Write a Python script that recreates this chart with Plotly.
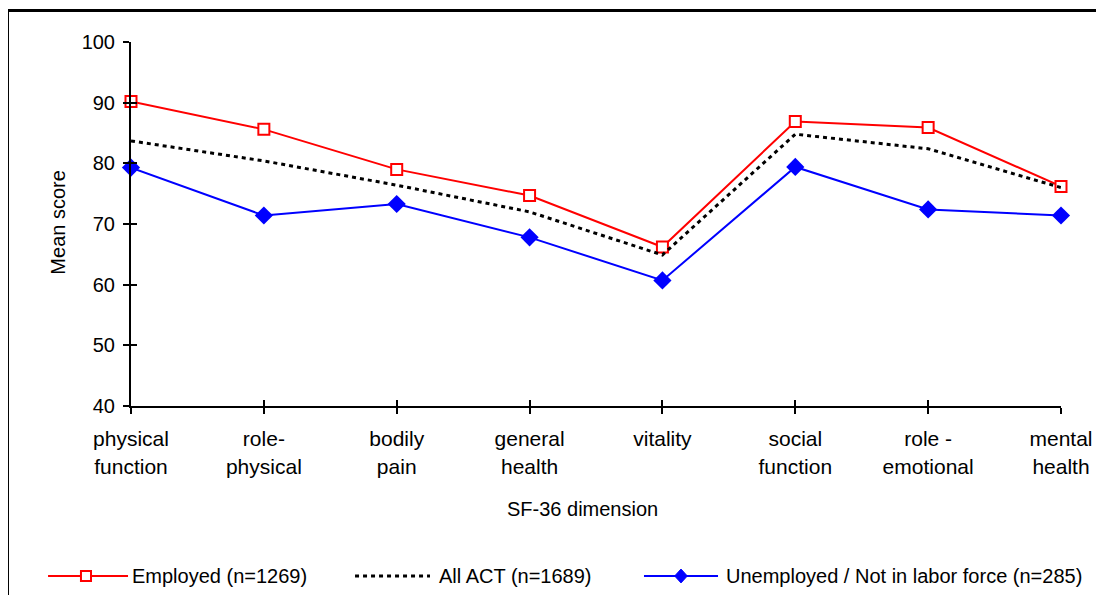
import plotly.graph_objects as go

dimensions = ['physical<br>function', 'role-<br>physical', 'bodily<br>pain', 'general<br>health',
              'vitality', 'social<br>function', 'role -<br>emotional', 'mental<br>health']
employed = [90.2, 85.6, 79.0, 74.7, 66.2, 86.9, 85.9, 76.2]
all_act = [83.7, 80.4, 76.4, 72.0, 64.9, 84.8, 82.4, 76.0]
unemployed = [79.3, 71.4, 73.3, 67.8, 60.7, 79.4, 72.4, 71.4]
series_names = ['Employed (n=1269)', 'All ACT (n=1689)', 'Unemployed / Not in labor force (n=285)']

x_pos = list(range(len(dimensions)))
FONT = 'Liberation Sans, Arial, sans-serif'
RED = '#ff0000'
BLUE = '#0000ff'
DOTS = '4px,4px'

fig = go.Figure()
fig.add_trace(go.Scatter(
    x=x_pos, y=employed, name=series_names[0], mode='lines+markers',
    line=dict(color=RED, width=2),
    marker=dict(symbol='square', size=11, color='white', line=dict(color=RED, width=2)),
    cliponaxis=False))
fig.add_trace(go.Scatter(
    x=x_pos, y=all_act, name=series_names[1], mode='lines',
    line=dict(color='black', width=3, dash=DOTS),
    cliponaxis=False))
fig.add_trace(go.Scatter(
    x=x_pos, y=unemployed, name=series_names[2], mode='lines+markers',
    line=dict(color=BLUE, width=2),
    marker=dict(symbol='diamond', size=14, color=BLUE),
    cliponaxis=False))
# dummy trace so the overlay axes (inner half of the crossing ticks) get drawn
fig.add_trace(go.Scatter(x=[None], y=[None], xaxis='x2', yaxis='y2', showlegend=False))

tick_style = dict(ticklen=6, tickwidth=2, tickcolor='black', showgrid=False, zeroline=False)
fig.update_layout(
    width=1104, height=595,
    margin=dict(l=123, r=51, t=34, b=197),
    paper_bgcolor='white', plot_bgcolor='white',
    font=dict(family=FONT, size=20, color='black'),
    showlegend=False,
    xaxis=dict(range=[0, 7], tickmode='array', tickvals=x_pos, ticktext=dimensions,
               showline=True, linecolor='black', linewidth=2, ticks='outside',
               ticklabelstandoff=7, tickfont=dict(size=21), **tick_style),
    xaxis2=dict(range=[0, 7], overlaying='x', tickmode='array', tickvals=x_pos,
                showticklabels=False, ticks='inside', side='bottom', **tick_style),
    yaxis=dict(range=[40, 100], dtick=10, showline=True, linecolor='black', linewidth=2,
               ticks='outside', ticklabelstandoff=4, **tick_style),
    yaxis2=dict(range=[40, 100], dtick=10, overlaying='y', showticklabels=False,
                ticks='inside', side='left', **tick_style),
)

# axis titles
fig.add_annotation(text='Mean score', xref='paper', yref='paper', x=-0.078, y=0.505,
                   textangle=-90, showarrow=False, xanchor='center', yanchor='middle')
fig.add_annotation(text='SF-36 dimension', xref='paper', yref='paper', x=0.485, y=-0.283,
                   showarrow=False, xanchor='center', yanchor='middle')

# cut-off title above the frame
fig.add_annotation(text='<b>1995</b>', xref='paper', yref='paper', x=-0.1398, y=1.0907,
                   showarrow=False, xanchor='left', yanchor='bottom',
                   font=dict(family='Liberation Serif, Times New Roman, serif', size=20))

# outer chart frame (left and top edges visible)
frame = dict(color='black', width=3)
fig.add_shape(type='line', xref='paper', yref='paper', x0=-0.1328, x1=-0.1328, y0=1.0865, y1=-0.7,
              line=frame)
fig.add_shape(type='line', xref='paper', yref='paper', x0=-0.1328, x1=1.1, y0=1.0865, y1=1.0865,
              line=frame)

# legend drawn by hand (long Excel-style keys)
leg_y = -0.467
keys = [(-0.0892, -0.0032, RED, None), (0.2409, 0.3215, 'black', DOTS), (0.5516, 0.6312, BLUE, None)]
text_x = [-0.0015, 0.329, 0.6376]
for (x0, x1, color, dash), tx, name in zip(keys, text_x, series_names):
    fig.add_shape(type='line', xref='paper', yref='paper', x0=x0, x1=x1, y0=leg_y, y1=leg_y,
                  line=dict(color=color, width=3 if dash else 2, dash=dash or 'solid'))
    fig.add_annotation(text=name, xref='paper', yref='paper', x=tx, y=leg_y,
                       showarrow=False, xanchor='left', yanchor='middle')

# legend markers
sx, sw, sh = -0.0484, 0.0054, 0.0137
fig.add_shape(type='rect', xref='paper', yref='paper', x0=sx - sw, x1=sx + sw,
              y0=leg_y - sh, y1=leg_y + sh, fillcolor='white', line=dict(color=RED, width=2))
dx, dw, dh = 0.5914, 0.0068, 0.019
fig.add_shape(type='path', xref='paper', yref='paper', fillcolor=BLUE, line=dict(color=BLUE, width=1),
              path=f'M {dx - dw} {leg_y} L {dx} {leg_y + dh} L {dx + dw} {leg_y} L {dx} {leg_y - dh} Z')

fig.write_html('out.html')
